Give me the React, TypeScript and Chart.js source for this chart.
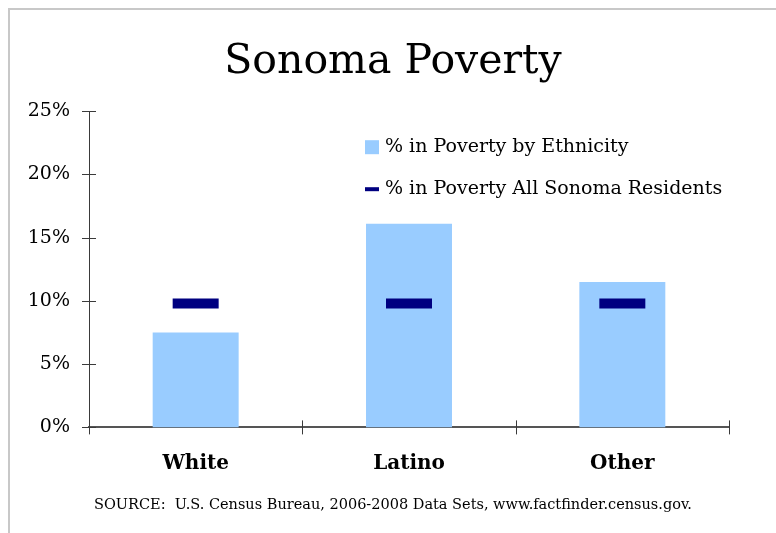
import React, { useEffect, useRef } from "react";
import { Chart, registerables } from "chart.js";

Chart.register(...registerables);

const categories = ["White", "Latino", "Other"];
const ethnicityPoverty = [7.5, 16.1, 11.5];
const allResidentsPoverty = [9.8, 9.8, 9.8];
const seriesLabels = ["% in Poverty by Ethnicity", "% in Poverty All Sonoma Residents"];
const titleText = "Sonoma Poverty";
const sourceText = "SOURCE:  U.S. Census Bureau, 2006-2008 Data Sets, www.factfinder.census.gov.";
const yMax = 25;
const yStep = 5;

const FONT = "'DejaVu Serif', serif";
const BAR_COLOR = "#99CCFF";
const DASH_COLOR = "#000080";
const AXIS_COLOR = "#3a3a3a";

const decorPlugin = {
  id: "decor",
  afterDraw(chart: any) {
    const { ctx, chartArea, scales } = chart;
    const { left, right, top, bottom } = chartArea;
    ctx.save();
    // crossing tick marks on y axis
    ctx.strokeStyle = AXIS_COLOR;
    ctx.lineWidth = 1;
    const yScale = scales.y;
    yScale.ticks.forEach((t: any) => {
      const py = Math.round(yScale.getPixelForValue(t.value)) + 0.5;
      ctx.beginPath();
      ctx.moveTo(left - 7, py);
      ctx.lineTo(left + 7, py);
      ctx.stroke();
    });
    // crossing tick marks on x axis at category boundaries
    const n = categories.length;
    for (let i = 0; i <= n; i++) {
      const px = Math.round(left + ((right - left) * i) / n) + 0.5;
      ctx.beginPath();
      ctx.moveTo(px, bottom - 7);
      ctx.lineTo(px, bottom + 7);
      ctx.stroke();
    }
    // custom legend inside the plot area
    const lx = left + 276;
    const y1 = top + 36;
    const y2 = top + 78;
    ctx.fillStyle = chart.data.datasets[1].backgroundColor;
    ctx.fillRect(lx, y1 - 7, 14, 14);
    ctx.strokeStyle = chart.data.datasets[0].borderColor;
    ctx.lineWidth = 4;
    ctx.beginPath();
    ctx.moveTo(lx, y2);
    ctx.lineTo(lx + 14, y2);
    ctx.stroke();
    ctx.fillStyle = "#000";
    ctx.font = `19px ${FONT}`;
    ctx.textBaseline = "middle";
    ctx.textAlign = "left";
    ctx.fillText(chart.data.datasets[1].label, lx + 20, y1);
    ctx.fillText(chart.data.datasets[0].label, lx + 20, y2);
    ctx.restore();
  },
};

export default function App() {
  const ref = useRef<HTMLCanvasElement | null>(null);
  useEffect(() => {
    if (!ref.current) return;
    const chart = new Chart(ref.current, {
      type: "bar",
      data: {
        labels: categories,
        datasets: [
          {
            type: "line",
            label: seriesLabels[1],
            data: allResidentsPoverty,
            showLine: false,
            borderColor: DASH_COLOR,
            backgroundColor: DASH_COLOR,
            pointStyle: "line",
            pointRadius: 23,
            pointHoverRadius: 23,
            pointBorderWidth: 10,
            pointHoverBorderWidth: 10,
            pointBorderColor: DASH_COLOR,
            order: 1,
          } as any,
          {
            type: "bar",
            label: seriesLabels[0],
            data: ethnicityPoverty,
            backgroundColor: BAR_COLOR,
            borderWidth: 0,
            categoryPercentage: 1,
            barPercentage: 0.403,
            order: 2,
          },
        ],
      },
      options: {
        animation: false,
        responsive: true,
        maintainAspectRatio: false,
        events: [],
        layout: { padding: { left: 0, right: 0, top: 0, bottom: 0 } },
        plugins: {
          legend: { display: false },
          tooltip: { enabled: false },
          title: {
            display: true,
            text: titleText,
            color: "#000",
            font: { family: FONT, size: 41, weight: "normal" },
            padding: { top: 28, bottom: 24 },
          },
          subtitle: {
            display: true,
            position: "bottom",
            text: sourceText,
            color: "#000",
            font: { family: FONT, size: 14.5, weight: "normal" },
            padding: { top: 9.6, bottom: 18.6 },
          },
        },
        scales: {
          x: {
            grid: { display: false },
            border: { display: true, color: "#555", width: 2 },
            ticks: {
              color: "#000",
              font: { family: FONT, size: 20, weight: "bold" },
              padding: 16,
            },
            afterFit: (s: any) => {
              s.height = 60;
            },
          },
          y: {
            min: 0,
            max: yMax,
            grid: { display: false },
            border: { display: true, color: AXIS_COLOR, width: 1 },
            ticks: {
              stepSize: yStep,
              color: "#000",
              font: { family: FONT, size: 19 },
              padding: 11,
              callback: (v: any) => `${v}%`,
            },
            afterFit: (s: any) => {
              s.width = 79;
            },
          },
          yRightSpace: {
            position: "right",
            display: true,
            grid: { display: false },
            border: { display: false },
            ticks: { display: false },
            afterFit: (s: any) => {
              s.width = 47;
            },
          },
        },
      },
      plugins: [decorPlugin],
    });
    return () => chart.destroy();
  }, []);

  return (
    <div
      style={{
        position: "fixed",
        left: 8,
        top: 8,
        width: 768,
        height: 525,
        boxSizing: "border-box",
        borderTop: "2px solid #c8c8c8",
        borderLeft: "2px solid #c8c8c8",
        background: "#fff",
      }}
    >
      <canvas ref={ref} />
    </div>
  );
}
